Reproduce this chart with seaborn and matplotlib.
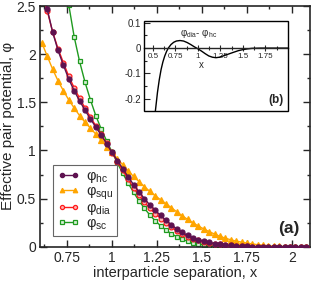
import matplotlib
matplotlib.use("Agg")
import matplotlib.pyplot as plt
from matplotlib.patches import Rectangle
from matplotlib.ticker import MultipleLocator, FixedLocator, FixedFormatter
import seaborn as sns
import pandas as pd

sns.set_style("ticks")
plt.rcParams['font.family'] = ['Liberation Sans', 'DejaVu Sans']
plt.rcParams['mathtext.fontset'] = 'custom'
plt.rcParams['mathtext.rm'] = 'Liberation Sans'
plt.rcParams['mathtext.it'] = 'Liberation Sans:italic'
plt.rcParams['axes.unicode_minus'] = False

# ---- data ----
x = [0.61, 0.64, 0.67, 0.70, 0.73, 0.76, 0.79, 0.82, 0.85, 0.88,
     0.91, 0.94, 0.97, 1.00, 1.03, 1.06, 1.09, 1.12, 1.15, 1.18,
     1.21, 1.24, 1.27, 1.30, 1.33, 1.36, 1.39, 1.42, 1.45, 1.48,
     1.51, 1.54, 1.57, 1.60, 1.63, 1.66, 1.69, 1.72, 1.75, 1.78,
     1.81, 1.84, 1.87, 1.90, 1.93, 1.96, 1.99, 2.02, 2.05, 2.08]

phi_hc = [2.75, 2.47, 2.23, 2.04, 1.886, 1.74, 1.62, 1.515, 1.418, 1.328,
          1.243, 1.16, 1.07, 0.98, 0.895, 0.81, 0.725, 0.645, 0.57, 0.50,
          0.435, 0.38, 0.325, 0.275, 0.228, 0.185, 0.148, 0.118, 0.093, 0.073,
          0.057, 0.044, 0.033, 0.025, 0.018, 0.013, 0.009, 0.006, 0.004, 0.002,
          0.001, 0.0, 0.0, 0.0, 0.0, 0.0, 0.0, 0.0, 0.0, 0.0]

phi_squ = [2.12, 1.98, 1.845, 1.724, 1.62, 1.524, 1.441, 1.362, 1.293, 1.232,
           1.17, 1.105, 1.04, 0.98, 0.915, 0.85, 0.787, 0.73, 0.677, 0.625,
           0.575, 0.53, 0.488, 0.447, 0.405, 0.363, 0.322, 0.284, 0.249, 0.215,
           0.185, 0.157, 0.132, 0.108, 0.089, 0.072, 0.058, 0.048, 0.038, 0.029,
           0.021, 0.015, 0.010, 0.006, 0.004, 0.002, 0.001, 0.0, 0.0, 0.0]

phi_dia = [2.69, 2.45, 2.233, 2.058, 1.911, 1.769, 1.65, 1.543, 1.442, 1.347,
           1.256, 1.168, 1.073, 0.978, 0.885, 0.792, 0.699, 0.613, 0.534, 0.462,
           0.398, 0.345, 0.293, 0.247, 0.204, 0.165, 0.132, 0.105, 0.083, 0.066,
           0.052, 0.041, 0.031, 0.024, 0.018, 0.013, 0.009, 0.006, 0.004, 0.002,
           0.001, 0.0, 0.0, 0.0, 0.0, 0.0, 0.0, 0.0, 0.0, 0.0]

phi_sc = [5.1, 4.4, 3.8, 3.3, 2.88, 2.51, 2.18, 1.924, 1.71, 1.527,
          1.362, 1.224, 1.10, 0.985, 0.87, 0.762, 0.66, 0.565, 0.478, 0.40,
          0.33, 0.27, 0.218, 0.173, 0.135, 0.104, 0.078, 0.057, 0.041, 0.028,
          0.018, 0.011, 0.006, 0.003, 0.001, 0.0, 0.0, 0.0, 0.0, 0.0,
          0.0, 0.0, 0.0, 0.0, 0.0, 0.0, 0.0, 0.0, 0.0, 0.0]

# inset: phi_dia - phi_hc
x_in = [0.52, 0.55, 0.57, 0.59, 0.61, 0.63, 0.65, 0.67, 0.70, 0.73,
        0.76, 0.80, 0.84, 0.88, 0.92, 0.96, 1.00, 1.04, 1.08, 1.12,
        1.16, 1.20, 1.24, 1.28, 1.32, 1.36, 1.40, 1.45, 1.50, 1.55,
        1.60, 1.70, 1.80, 1.90, 2.00]
diff_in = [-0.27, -0.175, -0.125, -0.085, -0.055, -0.032, -0.014, 0.0, 0.014, 0.023,
           0.028, 0.030, 0.028, 0.022, 0.014, 0.005, -0.003, -0.012, -0.022, -0.031,
           -0.036, -0.038, -0.036, -0.031, -0.026, -0.021, -0.016, -0.010, -0.006, -0.003,
           -0.001, 0.0, 0.0, 0.0, 0.0]

main_xticks = [0.75, 1.0, 1.25, 1.5, 1.75, 2.0]
main_xticklabels = ['0.75', '1', '1.25', '1.5', '1.75', '2']
main_yticks = [0, 0.5, 1.0, 1.5, 2.0, 2.5]
main_yticklabels = ['0', '0.5', '1', '1.5', '2', '2.5']
in_xticks = [0.5, 0.75, 1.0, 1.25, 1.5, 1.75]
in_xticklabels = ['0.5', '0.75', '1', '1.25', '1.5', '1.75']
in_yticks = [0.1, 0.0, -0.1, -0.2]
in_yticklabels = ['0.1', '0', '-0.1', '-0.2']

series = [
    ("hc", phi_hc, 4, dict(color='#5e1250', marker='o', markersize=3.6,
                           markerfacecolor='#5e1250', markeredgecolor='#5e1250')),
    ("squ", phi_squ, 2, dict(color='#ffa500', marker='^', markersize=3.8,
                             markerfacecolor='#ffa500', markeredgecolor='#ffa500')),
    ("dia", phi_dia, 3, dict(color='#ff1a1a', marker='o', markersize=3.5,
                             markerfacecolor='#ffb0b0', markeredgecolor='#ff1a1a')),
    ("sc", phi_sc, 1, dict(color='#1f9a1f', marker='s', markersize=3.3,
                           markerfacecolor='#d8f0d8', markeredgecolor='#1f9a1f')),
]

fig = plt.figure(figsize=(3.13, 2.81), dpi=100)
ax = fig.add_axes([0.1278, 0.122, 0.8622, 0.8566])

for name, vals, z, kw in series:
    df = pd.DataFrame({'x': x, 'y': vals})
    sns.lineplot(data=df, x='x', y='y', ax=ax, linewidth=1.0, zorder=z,
                 markeredgewidth=0.9, label=r'φ$_{\mathrm{%s}}$' % name, **kw)

ax.set_xlim(0.6, 2.1)
ax.set_ylim(0, 2.5)
ax.xaxis.set_major_locator(FixedLocator(main_xticks))
ax.xaxis.set_major_formatter(FixedFormatter(main_xticklabels))
ax.xaxis.set_minor_locator(MultipleLocator(0.125))
ax.yaxis.set_major_locator(FixedLocator(main_yticks))
ax.yaxis.set_major_formatter(FixedFormatter(main_yticklabels))
ax.yaxis.set_minor_locator(MultipleLocator(0.25))
ax.tick_params(which='both', direction='in', top=True, right=True, width=1.0)
ax.tick_params(which='major', length=5, labelsize=10, pad=3)
ax.tick_params(which='minor', length=2.5)
for s in ax.spines.values():
    s.set_linewidth(1.2)
ax.set_xlabel('interparticle separation, x', fontsize=10.5, labelpad=1)
ax.set_ylabel('Effective pair potential, φ', fontsize=11)
ax.yaxis.set_label_coords(-0.092, 0.5)

leg = ax.legend(loc='lower left', bbox_to_anchor=(0.05, 0.045), fontsize=10.5,
                frameon=True, fancybox=False, edgecolor='#666666', framealpha=1,
                handlelength=1.5, handletextpad=0.5, labelspacing=-0.05,
                borderpad=0.25, numpoints=2, borderaxespad=0, markerscale=0.85)
leg.get_frame().set_linewidth(0.8)

ax.text(0.922, 0.075, '(a)', transform=ax.transAxes, fontsize=12.5,
        fontweight='bold', ha='center', va='center')

# ---- inset ----
axi = fig.add_axes([0.46, 0.605, 0.46, 0.32])
dfi = pd.DataFrame({'x': x_in, 'y': diff_in})
sns.lineplot(data=dfi, x='x', y='y', ax=axi, color='black', linewidth=1.0)
axi.set_xlim(0.4, 2.0)
axi.set_ylim(-0.249, 0.107)
axi.set_xlabel('')
axi.set_ylabel('')
for k in ['left', 'top', 'right']:
    axi.spines[k].set_visible(False)
axi.spines['bottom'].set_position(('data', 0))
axi.spines['bottom'].set_linewidth(1.0)
axi.add_patch(Rectangle((0, 0), 1, 1, transform=axi.transAxes, fill=False,
                        linewidth=1.0, edgecolor='black', clip_on=False, zorder=5))
axi.xaxis.set_major_locator(FixedLocator(in_xticks))
axi.xaxis.set_major_formatter(FixedFormatter(in_xticklabels))
axi.xaxis.set_minor_locator(FixedLocator([0.625, 0.875, 1.125, 1.375, 1.625, 1.875]))
axi.yaxis.set_major_locator(FixedLocator(in_yticks))
axi.yaxis.set_major_formatter(FixedFormatter(in_yticklabels))
axi.yaxis.set_minor_locator(FixedLocator([0.05, -0.05, -0.15]))
axi.tick_params(axis='x', which='both', direction='inout', width=0.8, pad=1)
axi.tick_params(axis='x', which='major', length=5, labelsize=5.8)
axi.tick_params(axis='x', which='minor', length=3)
axi.tick_params(axis='y', which='both', direction='in', width=0.8, pad=2)
axi.tick_params(axis='y', which='major', length=4, labelsize=7)
axi.tick_params(axis='y', which='minor', length=2)
axi.text(0.378, 0.865, r'φ$_{\mathrm{dia}}$- φ$_{\mathrm{hc}}$', transform=axi.transAxes,
         fontsize=7, ha='center', va='center')
axi.text(0.396, 0.51, 'x', transform=axi.transAxes, fontsize=7, ha='center', va='center')
axi.text(0.915, 0.125, '(b)', transform=axi.transAxes, fontsize=8.5,
         fontweight='bold', ha='center', va='center')

fig.savefig('out.png', dpi=100)
